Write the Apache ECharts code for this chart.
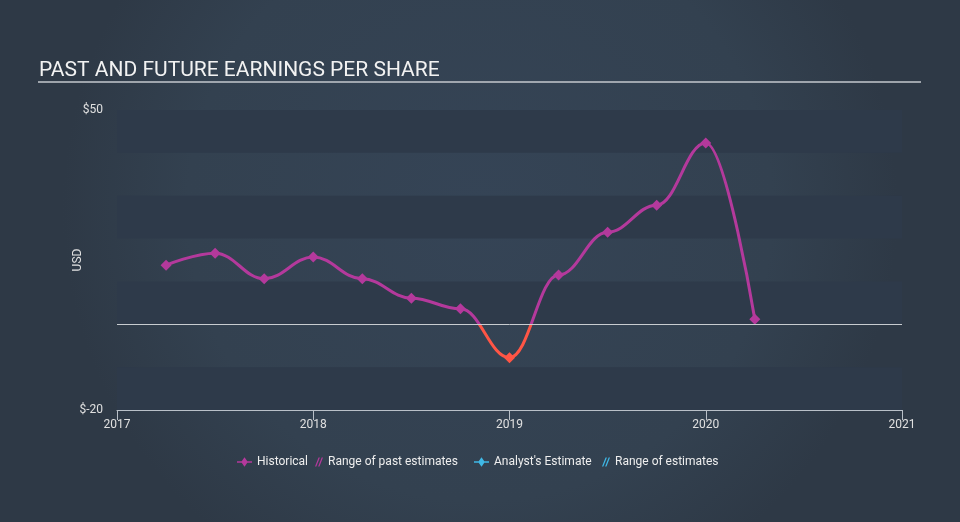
<!DOCTYPE html>
<html>
<head>
<meta charset="utf-8">
<script src="https://cdn.jsdelivr.net/npm/echarts@6/dist/echarts.min.js"></script>
<style>
  html, body { margin: 0; padding: 0; }
  #chart { width: 960px; height: 522px; }
</style>
</head>
<body>
<div id="chart"></div>
<script>
// 日期（年份小数）与每股收益
const dates = [2017.25, 2017.5, 2017.75, 2018.0, 2018.25, 2018.5, 2018.75, 2019.0, 2019.25, 2019.5, 2019.75, 2020.0, 2020.25]
const eps = [13.8, 16.6, 10.6, 15.7, 10.6, 6.1, 3.6, -7.8, 11.5, 21.5, 27.8, 42.3, 1.2]
const yearTicks = [2017, 2018, 2019, 2020, 2021]
const yLabels = { '50': '$50', '-20': '$-20' }

const purple = '#b4399c'
const red = '#ff5545'
const blue = '#3fb8e6'

const myChart = echarts.init(document.getElementById('chart'))

// 斜线图标
const hatch = 'path://M0,10 L4,0 L5.5,0 L1.5,10 Z M3.5,10 L7.5,0 L9,0 L5,10 Z'
const diamondLine = 'path://M0,4.2 L5,4.2 L8,0 L11,4.2 L16,4.2 L16,5.8 L11,5.8 L8,10 L5,5.8 L0,5.8 Z'

// 每个图例单独定位
const legendItem = (name, icon, color, left, width) => ({
    left: left,
    top: 451,
    itemWidth: width,
    itemHeight: 10,
    textStyle: { color: '#eee', fontSize: 12 },
    data: [{ name: name, icon: icon, itemStyle: { color: color } }]
})

myChart.setOption({
    backgroundColor: {
        type: 'radial', x: 0.5, y: 0.4, r: 0.8,
        colorStops: [
            { offset: 0, color: '#354456' },
            { offset: 0.7, color: '#334150' },
            { offset: 1, color: '#2e3946' }
        ]
    },
    textStyle: { fontFamily: 'Roboto' },
    title: {
        text: 'PAST AND FUTURE EARNINGS PER SHARE',
        left: 34,
        top: 55,
        textStyle: { color: '#f2f2f2', fontSize: 21, fontWeight: 'normal', fontFamily: 'Roboto' }
    },
    graphic: [{
        type: 'line',
        shape: { x1: 38, y1: 82, x2: 921, y2: 82 },
        style: { stroke: '#c5c9ce', lineWidth: 1.5 }
    }],
    grid: { left: 117, right: 58, top: 110, bottom: 112 },
    legend: [
        legendItem('Historical', diamondLine, purple, 232, 15),
        legendItem('Range of past estimates', hatch, purple, 310, 8),
        legendItem("Analyst's Estimate", diamondLine, blue, 469, 15),
        legendItem('Range of estimates', hatch, blue, 597, 8)
    ],
    xAxis: {
        type: 'value',
        min: 2017,
        max: 2021,
        interval: 1,
        axisLine: { show: true, onZero: false, lineStyle: { color: '#b9c0c8', width: 1 } },
        axisTick: { show: true, length: 10, lineStyle: { color: '#b9c0c8' } },
        axisLabel: { color: '#e0e0e0', fontSize: 12, margin: 9, formatter: v => yearTicks.includes(v) ? String(v) : '' },
        splitLine: { show: false }
    },
    yAxis: {
        type: 'value',
        min: -20,
        max: 50,
        interval: 10,
        name: 'USD',
        nameLocation: 'middle',
        nameRotate: 90,
        nameGap: 33,
        nameMoveOverlap: false,
        nameTextStyle: { color: '#e0e0e0', fontSize: 12 },
        axisLine: { show: false },
        axisTick: { show: false },
        axisLabel: { color: '#e0e0e0', fontSize: 12, margin: 14, formatter: v => yLabels[String(v)] || '' },
        splitLine: { show: false },
        splitArea: { show: true, areaStyle: { color: ['#2e3a4a', 'rgba(0,0,0,0)'] } }
    },
    visualMap: {
        show: false,
        type: 'piecewise',
        seriesIndex: 0,
        dimension: 1,
        pieces: [
            { gte: -100, lt: 0, color: red },
            { gte: 0, lte: 100, color: purple }
        ]
    },
    series: [{
        name: 'Historical',
        type: 'line',
        data: dates.map((d, i) => [d, eps[i]]),
        smooth: 0.4,
        smoothMonotone: 'x',
        symbol: 'diamond',
        symbolSize: 11,
        lineStyle: { width: 3 },
        itemStyle: { color: purple },
        z: 3,
        markLine: {
            silent: true,
            symbol: 'none',
            label: { show: false },
            lineStyle: { color: '#c8ccd0', width: 1, type: 'solid' },
            data: [{ yAxis: 0 }]
        }
    }, {
        name: 'Range of past estimates', type: 'line', data: []
    }, {
        name: "Analyst's Estimate", type: 'line', data: [], itemStyle: { color: blue }
    }, {
        name: 'Range of estimates', type: 'line', data: []
    }]
})
</script>
</body>
</html>
